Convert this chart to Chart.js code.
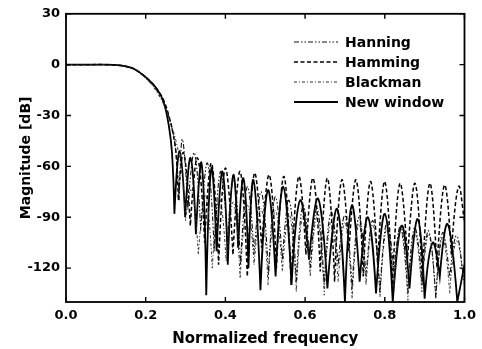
<!DOCTYPE html>
<html>
<head>
<meta charset="utf-8">
<script src="https://cdn.jsdelivr.net/npm/chart.js@4.4.1/dist/chart.umd.min.js"></script>
<style>
  html, body { margin: 0; padding: 0; background: #fff; }
  #wrap { width: 482px; height: 349px; }
</style>
</head>
<body>
<div id="wrap"><canvas id="chart"></canvas></div>
<script>
// frequency response: [normalized frequency, dB]
const hanning = [
  [0, 0], [0.05, 0], [0.10, 0], [0.13, -0.3], [0.15, -1], [0.17, -2.5], [0.19, -5.8], [0.21, -10],
  [0.23, -16], [0.248, -24], [0.262, -34], [0.272, -45], [0.279, -60], [0.284, -80],
  [0.292, -44], [0.306, -85], [0.322, -52], [0.338, -98], [0.355, -58], [0.372, -110],
  [0.388, -63], [0.405, -104], [0.421, -68], [0.438, -118], [0.455, -72], [0.472, -112],
  [0.49, -75], [0.508, -124], [0.525, -78], [0.543, -115], [0.56, -80], [0.578, -128],
  [0.595, -83], [0.613, -120], [0.63, -85], [0.648, -130], [0.665, -87], [0.683, -118],
  [0.70, -89], [0.718, -132], [0.735, -90], [0.753, -125], [0.77, -92], [0.788, -135],
  [0.805, -93], [0.823, -122], [0.84, -95], [0.858, -134], [0.875, -96], [0.893, -128],
  [0.91, -98], [0.928, -138], [0.945, -99], [0.963, -126], [0.98, -101], [1.0, -130]
];

const hamming = [
  [0, 0], [0.05, 0], [0.10, 0], [0.13, -0.3], [0.15, -1], [0.17, -2.4], [0.19, -5.5], [0.21, -9.5],
  [0.23, -15], [0.245, -21], [0.258, -30], [0.268, -40], [0.276, -52], [0.282, -80],
  [0.295, -52], [0.312, -95], [0.33, -55], [0.348, -105], [0.365, -58], [0.383, -118],
  [0.40, -61], [0.419, -112], [0.437, -63], [0.455, -125], [0.473, -64], [0.491, -108],
  [0.51, -65], [0.528, -120], [0.547, -66], [0.565, -130], [0.584, -66], [0.602, -112],
  [0.62, -67], [0.638, -122], [0.656, -67], [0.674, -128], [0.692, -68], [0.71, -110],
  [0.728, -68], [0.746, -125], [0.764, -69], [0.782, -118], [0.80, -69], [0.819, -132],
  [0.838, -70], [0.857, -115], [0.876, -70], [0.894, -128], [0.913, -70], [0.931, -120],
  [0.95, -71], [0.967, -112], [0.985, -72], [1.0, -92]
];

const blackman = [
  [0, 0], [0.05, 0], [0.10, 0], [0.13, -0.3], [0.15, -1.1], [0.17, -2.7], [0.19, -6], [0.21, -10.5],
  [0.23, -17], [0.25, -26], [0.265, -36], [0.278, -47], [0.29, -62], [0.30, -92],
  [0.315, -74], [0.332, -112], [0.35, -77], [0.367, -120], [0.385, -79], [0.402, -116],
  [0.42, -81], [0.437, -126], [0.455, -83], [0.472, -118], [0.49, -85], [0.507, -130],
  [0.525, -86], [0.543, -122], [0.56, -88], [0.578, -134], [0.595, -89], [0.613, -125],
  [0.63, -90], [0.648, -136], [0.665, -92], [0.683, -128], [0.70, -93], [0.718, -138],
  [0.735, -94], [0.753, -130], [0.77, -95], [0.788, -137], [0.805, -97], [0.823, -132],
  [0.84, -98], [0.858, -139], [0.875, -99], [0.893, -134], [0.91, -100], [0.928, -138],
  [0.945, -102], [0.963, -135], [0.98, -104], [1.0, -128]
];

const newWindow = [
  [0, 0], [0.05, 0], [0.10, 0], [0.13, -0.3], [0.15, -1], [0.17, -2.4], [0.19, -5.5], [0.21, -9.5],
  [0.23, -15], [0.245, -22], [0.258, -36], [0.266, -52], [0.272, -88],
  [0.285, -51], [0.299, -90], [0.3125, -55], [0.326, -100], [0.34, -58], [0.352, -136],
  [0.365, -61], [0.378, -110], [0.3925, -63], [0.406, -118], [0.42, -65], [0.432, -108],
  [0.445, -67], [0.458, -120], [0.47, -68], [0.488, -133], [0.507, -74], [0.526, -125],
  [0.545, -72], [0.566, -130], [0.5875, -80], [0.61, -115], [0.6325, -79], [0.656, -132],
  [0.68, -85], [0.70, -140], [0.7175, -83], [0.737, -128], [0.7575, -90], [0.778, -135],
  [0.80, -88], [0.82, -140], [0.8425, -95], [0.862, -132], [0.8825, -91], [0.90, -138],
  [0.92, -105], [0.938, -125], [0.9575, -94], [0.982, -140], [1.0, -118]
];

const seriesNames = ["Hanning", "Hamming", "Blackman", "New window"];
const xTicks = [0, 0.2, 0.4, 0.6, 0.8, 1.0];
const yTicks = [30, 0, -30, -60, -90, -120];

const FONT = "'DejaVu Sans', sans-serif";

function toPoints(arr) {
  return arr.map(p => ({ x: p[0], y: p[1] }));
}

// nulls in dB are cusps, so drop the bezier handles at local minima
const sharpNulls = {
  id: "sharpNulls",
  beforeDatasetsDraw(chart) {
    chart.data.datasets.forEach((ds, i) => {
      const meta = chart.getDatasetMeta(i);
      meta.dataset.updateControlPoints(chart.chartArea, meta.indexAxis);
      const pts = meta.data;
      for (let k = 1; k < pts.length - 1; k++) {
        const p = pts[k];
        if (p.y > pts[k - 1].y && p.y > pts[k + 1].y) {
          p.cp1x = p.x; p.cp1y = p.y;
          p.cp2x = p.x; p.cp2y = p.y;
        }
      }
    });
  }
};

// box around the plot with inward ticks on all sides, plus the legend
const frame = {
  id: "frame",
  afterDraw(chart) {
    const ctx = chart.ctx;
    const a = chart.chartArea;
    const xs = chart.scales.x, ys = chart.scales.y;
    const tl = 5;
    ctx.save();
    ctx.strokeStyle = "#000";
    ctx.lineWidth = 1.8;
    ctx.strokeRect(a.left, a.top, a.right - a.left, a.bottom - a.top);
    ctx.lineWidth = 1.4;
    ctx.beginPath();
    xTicks.forEach(v => {
      const px = xs.getPixelForValue(v);
      ctx.moveTo(px, a.bottom); ctx.lineTo(px, a.bottom - tl);
      ctx.moveTo(px, a.top); ctx.lineTo(px, a.top + tl);
    });
    yTicks.forEach(v => {
      const py = ys.getPixelForValue(v);
      ctx.moveTo(a.left, py); ctx.lineTo(a.left + tl, py);
      ctx.moveTo(a.right, py); ctx.lineTo(a.right - tl, py);
    });
    ctx.stroke();

    // legend
    ctx.font = "bold 14px " + FONT;
    ctx.textBaseline = "middle";
    ctx.fillStyle = "#000";
    chart.data.datasets.forEach((ds, i) => {
      const y = 42 + i * 20;
      ctx.beginPath();
      ctx.setLineDash(ds.borderDash || []);
      ctx.lineWidth = ds.borderWidth;
      ctx.strokeStyle = ds.borderColor;
      ctx.moveTo(294, y); ctx.lineTo(338, y);
      ctx.stroke();
      ctx.setLineDash([]);
      ctx.fillText(ds.label, 345, y + 1);
    });
    ctx.restore();
  }
};

const ctx = document.getElementById("chart").getContext("2d");
const chart = new Chart(ctx, {
  type: "line",
  data: {
    datasets: [
      { label: seriesNames[0], data: toPoints(hanning), borderColor: "#111", borderWidth: 1.1, borderDash: [5, 2, 1.5, 2, 1.5, 2] },
      { label: seriesNames[1], data: toPoints(hamming), borderColor: "#000", borderWidth: 1.5, borderDash: [4, 2.5] },
      { label: seriesNames[2], data: toPoints(blackman), borderColor: "#333", borderWidth: 1, borderDash: [3, 2, 1, 2] },
      { label: seriesNames[3], data: toPoints(newWindow), borderColor: "#000", borderWidth: 1.8 }
    ]
  },
  options: {
    responsive: true,
    maintainAspectRatio: false,
    animation: false,
    events: [],
    parsing: false,
    elements: {
      point: { radius: 0 },
      line: { tension: 0.45, fill: false }
    },
    layout: { padding: { top: 13, right: 17, left: 0, bottom: 0 } },
    plugins: { legend: { display: false }, tooltip: { enabled: false } },
    scales: {
      x: {
        type: "linear",
        min: 0,
        max: 1,
        afterBuildTicks: s => { s.ticks = xTicks.map(v => ({ value: v })); },
        afterFit: s => { s.height = 47; },
        grid: { display: false, drawTicks: false },
        border: { display: false },
        ticks: {
          padding: 6,
          color: "#000",
          font: { family: FONT, size: 13, weight: "bold" },
          callback: v => v.toFixed(1),
          maxRotation: 0
        },
        title: {
          display: true,
          text: "Normalized frequency",
          color: "#000",
          font: { family: FONT, size: 15, weight: "bold" },
          padding: { top: 0, bottom: 1 }
        }
      },
      y: {
        type: "linear",
        min: -140,
        max: 30,
        afterBuildTicks: s => { s.ticks = yTicks.map(v => ({ value: v })); },
        afterFit: s => { s.width = 66; },
        grid: { display: false, drawTicks: false },
        border: { display: false },
        ticks: {
          padding: 6,
          color: "#000",
          font: { family: FONT, size: 13, weight: "bold" },
          callback: v => String(v)
        },
        title: {
          display: true,
          text: "Magnitude [dB]",
          color: "#000",
          font: { family: FONT, size: 14, weight: "bold" },
          padding: { top: 18, bottom: 0 }
        }
      }
    }
  },
  plugins: [sharpNulls, frame]
});
</script>
</body>
</html>
